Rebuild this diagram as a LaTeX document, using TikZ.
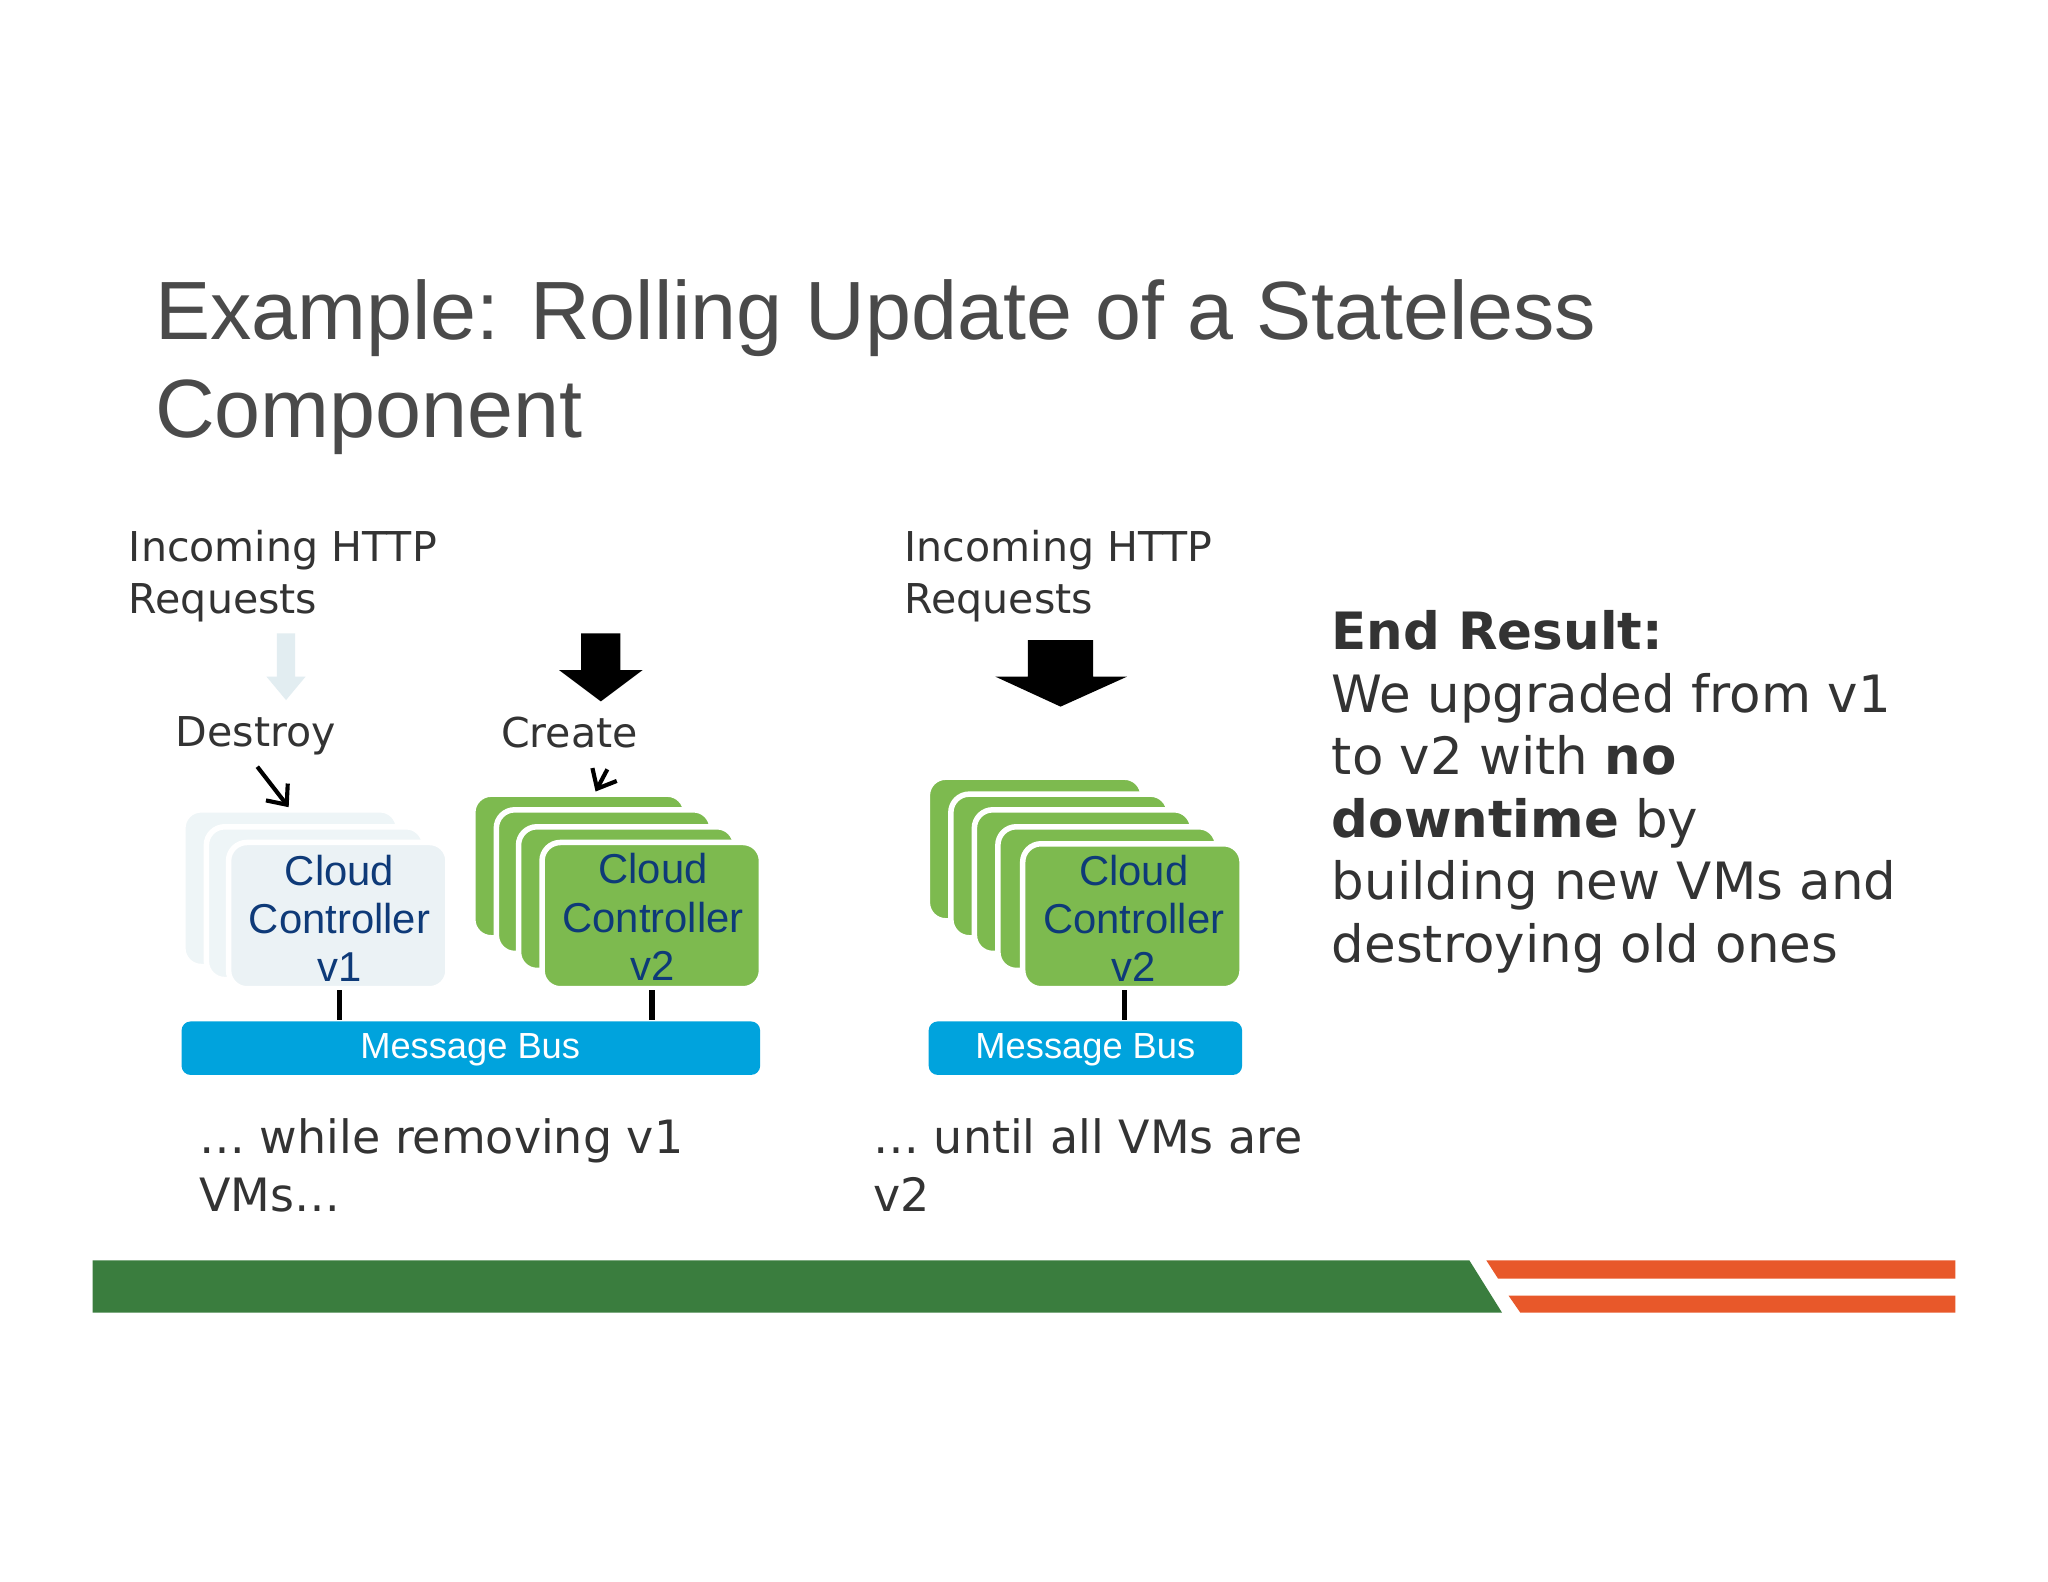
\documentclass[tikz,border=0pt]{standalone}
\usepackage{fontspec}
\usetikzlibrary{arrows.meta}
\setmainfont{DejaVu Sans}
\newfontfamily\arial{Liberation Sans}
\definecolor{ttl}{HTML}{4A4A4A}
\definecolor{grn}{HTML}{7DBA4F}
\definecolor{bus}{HTML}{00A3DD}
\definecolor{blu}{HTML}{0E3A78}
\definecolor{fad}{HTML}{EEF5F7}
\definecolor{fad2}{HTML}{E2EDF1}
\definecolor{band}{HTML}{3A7D3E}
\definecolor{org}{HTML}{E8582A}
\definecolor{txt}{HTML}{333333}
\begin{document}
\begin{tikzpicture}[x=0.01cm,y=-0.01cm,
 gbox/.style={fill=grn,draw=white,line width=1.2pt,rounded corners=4pt},
 fbox/.style={fill=fad,draw=white,line width=1.2pt,rounded corners=4pt},
 boxtxt/.style={font=\arial\fontsize{9.1}{10.5}\selectfont,text=blu,align=center},
 bustxt/.style={font=\arial\fontsize{7.9}{9}\selectfont,text=white},
 body/.style={font=\fontsize{8.95}{11.5}\selectfont,text=txt,align=left,anchor=north west,inner sep=0},
 link/.style={line width=1.2pt},
 small/.style={line width=0.9pt,-{Straight Barb[length=3.5pt,width=6pt]}}]
\useasboundingbox (0,0) rectangle (1568,1211);
\fill[white] (0,0) rectangle (1568,1211);
\node[anchor=north west,inner sep=0,text=ttl,align=left,font=\arial\fontsize{18}{21.5}\selectfont] (title) at (118,213) {Example: Rolling Update of a Stateless\\Component};
\node[body] (in1) at (98,405) {Incoming HTTP\\Requests};
\node[body] (in2) at (692,405) {Incoming HTTP\\Requests};
\node[body] (destroy) at (134,548) {Destroy};
\node[body] (create) at (383,548) {Create};
\fill[fad2] (212,485) rectangle (226,518) -- (234,518) -- (219,536) -- (204,518) -- (212,518) -- cycle;
\fill[black] (445,485) rectangle (475,513) (428,513) -- (492,513) -- (460,537) -- cycle;
\fill[black] (787,490) rectangle (837,518) (762,518) -- (863,518) -- (812,541) -- cycle;
\draw[fbox] (140,620) rectangle (305,740);
\draw[fbox] (158,633) rectangle (325,750);
\draw[fbox,fill=fad2!70] (175,645) rectangle (343,757);
\node[boxtxt] (v1t) at (260,703) {Cloud\\Controller\\v1};
\draw[gbox] (362,608) rectangle (525,718);
\draw[gbox] (380,620) rectangle (545,730);
\draw[gbox] (397,633) rectangle (563,743);
\draw[gbox] (415,645) rectangle (583,757);
\node[boxtxt] (v2t) at (500,702) {Cloud\\Controller\\v2};
\draw[gbox] (710,595) rectangle (875,705);
\draw[gbox] (728,608) rectangle (895,718);
\draw[gbox] (746,620) rectangle (913,730);
\draw[gbox] (764,633) rectangle (932,743);
\draw[gbox] (783,646) rectangle (951,757);
\node[boxtxt] (v3t) at (868,703) {Cloud\\Controller\\v2};
\fill[bus,rounded corners=2pt] (139,782) rectangle (582,823);
\node[bustxt] (bus1) at (360,804) {Message Bus};
\fill[bus,rounded corners=2pt] (711,782) rectangle (951,823);
\node[bustxt] (bus2) at (831,804) {Message Bus};
\coordinate (a1) at (260,758); \coordinate (b1) at (260,781);
\coordinate (a2) at (499,758); \coordinate (b2) at (499,781);
\coordinate (a3) at (861,758); \coordinate (b3) at (861,781);
\draw[link] (a1)--(b1); \draw[link] (a2)--(b2); \draw[link] (a3)--(b3);
\coordinate (d1) at (197,587); \coordinate (d2) at (221,618);
\draw[small] (d1)--(d2);
\coordinate (c1) at (465,589); \coordinate (c2) at (456,606);
\draw[small] (c1)--(c2);
\node[body,font=\fontsize{10}{12.5}\selectfont] (w1) at (152,856) {… while removing v1\\VMs…};
\node[body,font=\fontsize{10}{12.5}\selectfont] (w2) at (668,856) {… until all VMs are\\v2};
\node[body,font=\fontsize{11.2}{13.6}\selectfont] (res) at (1019,467) {\textbf{End Result:}\\We upgraded from v1\\to v2 with \textbf{no}\\\textbf{downtime} by\\building new VMs and\\destroying old ones};
\fill[band] (71,965) -- (1125,965) -- (1150,1005) -- (71,1005) -- cycle;
\fill[org] (1138,965) -- (1497,965) -- (1497,979) -- (1147,979) -- cycle;
\fill[org] (1155,992) -- (1497,992) -- (1497,1005) -- (1164,1005) -- cycle;
\end{tikzpicture}
\end{document}
